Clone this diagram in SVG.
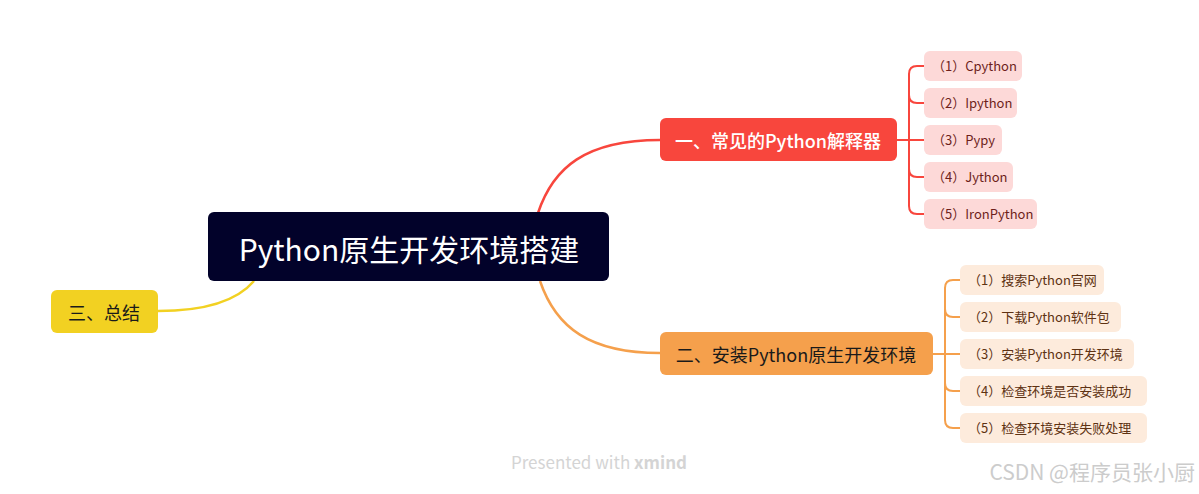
<svg xmlns="http://www.w3.org/2000/svg" width="1199" height="494" viewBox="0 0 1199 494">
<style>
text{font-family:"Noto Sans CJK SC","Noto Sans",sans-serif;}
.c1{fill:#fdd9d8;}
.t1{fill:#6e1f1b;font-size:13px;}
.c2{fill:#fdebdc;}
.t2{fill:#5e3212;font-size:13px;}
.line{fill:none;stroke-width:2.5;}
.main{font-size:18px;text-anchor:middle;dominant-baseline:central;}
</style>
<rect width="1199" height="494" fill="#ffffff"/>
<g id="connectors">
<path class="line" stroke="#f8463d" d="M538,213 C553,168 585,140 660,140"/>
<path class="line" stroke="#f5a04c" d="M540,281 C556,328 590,353 660,353"/>
<path class="line" stroke="#f2d122" d="M158,311 C205,311 237,301 254,281"/>
<g stroke="#f8463d" fill="none" stroke-width="2">
<path d="M897,140 H909"/>
<path d="M924,66 H917 Q909,66 909,74 V206 Q909,214 917,214 H924"/>
<path d="M909,95 Q909,103 917,103 H924"/>
<path d="M909,140 H924"/>
<path d="M909,169 Q909,177 917,177 H924"/>
</g>
<g stroke="#f5a04c" fill="none" stroke-width="2">
<path d="M933,354 H945"/>
<path d="M960,280 H953 Q945,280 945,288 V420 Q945,428 953,428 H960"/>
<path d="M945,309 Q945,317 953,317 H960"/>
<path d="M945,354 H960"/>
<path d="M945,383 Q945,391 953,391 H960"/>
</g>
</g>
<g id="central">
<rect x="208" y="212" width="401" height="69" rx="6" fill="#02022a"/>
<text x="409" y="248" font-size="30" fill="#ffffff" text-anchor="middle" dominant-baseline="central">Python原生开发环境搭建</text>
</g>
<g id="topic1">
<rect x="660" y="118" width="237" height="43" rx="6" fill="#f8463d"/>
<text class="main" x="778" y="140" fill="#ffffff" font-weight="500">一、常见的Python解释器</text>
</g>
<g id="topic2">
<rect x="660" y="332" width="273" height="43" rx="6" fill="#f5a04c"/>
<text class="main" x="796" y="354" fill="#1a1a1a">二、安装Python原生开发环境</text>
</g>
<g id="topic3">
<rect x="51" y="290" width="107" height="43" rx="6" fill="#f2d122"/>
<text class="main" x="104" y="312" fill="#1a1a1a">三、总结</text>
</g>
<g id="t1-1"><rect class="c1" x="924" y="51" width="98" height="30" rx="6"/><text class="t1" x="932" y="71">（1）Cpython</text></g>
<g id="t1-2"><rect class="c1" x="924" y="88" width="93" height="30" rx="6"/><text class="t1" x="932" y="108">（2）Ipython</text></g>
<g id="t1-3"><rect class="c1" x="924" y="125" width="78" height="30" rx="6"/><text class="t1" x="932" y="145">（3）Pypy</text></g>
<g id="t1-4"><rect class="c1" x="924" y="162" width="89" height="30" rx="6"/><text class="t1" x="932" y="182">（4）Jython</text></g>
<g id="t1-5"><rect class="c1" x="924" y="199" width="113" height="30" rx="6"/><text class="t1" x="932" y="219">（5）IronPython</text></g>
<g id="t2-1"><rect class="c2" x="960" y="265" width="144" height="30" rx="6"/><text class="t2" x="968" y="285">（1）搜索Python官网</text></g>
<g id="t2-2"><rect class="c2" x="960" y="302" width="161" height="30" rx="6"/><text class="t2" x="968" y="322">（2）下载Python软件包</text></g>
<g id="t2-3"><rect class="c2" x="960" y="339" width="174" height="30" rx="6"/><text class="t2" x="968" y="359">（3）安装Python开发环境</text></g>
<g id="t2-4"><rect class="c2" x="960" y="376" width="187" height="30" rx="6"/><text class="t2" x="968" y="396">（4）检查环境是否安装成功</text></g>
<g id="t2-5"><rect class="c2" x="960" y="413" width="187" height="30" rx="6"/><text class="t2" x="968" y="433">（5）检查环境安装失败处理</text></g>
<text x="599" y="469" font-size="17" fill="#d4d4d4" text-anchor="middle" font-family="Lato,sans-serif">Presented with <tspan font-weight="bold">xmind</tspan></text>
<text x="1195" y="480" font-size="21" fill="#cccccc" text-anchor="end" font-family="'Liberation Sans','Noto Sans CJK SC',sans-serif">CSDN @程序员张小厨</text>
</svg>
